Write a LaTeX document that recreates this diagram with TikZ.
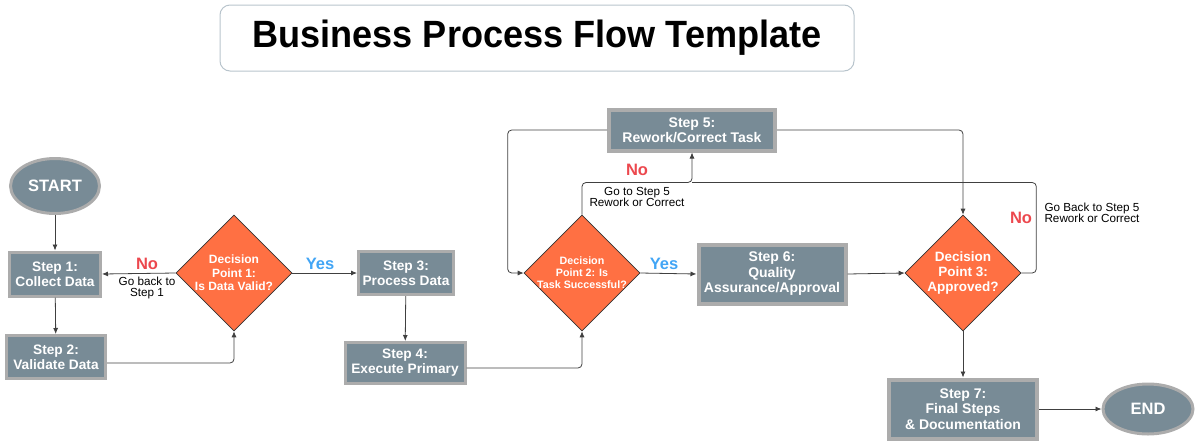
\documentclass[tikz,border=0pt]{standalone}
\usepackage{fontspec}
\setmainfont{Liberation Sans}
\usetikzlibrary{shapes.geometric,arrows.meta}
\definecolor{slate}{RGB}{120,139,150}
\definecolor{boxrim}{RGB}{172,172,172}
\definecolor{decorange}{RGB}{255,112,67}
\definecolor{nored}{RGB}{236,72,78}
\definecolor{yesblue}{RGB}{66,165,245}
\definecolor{titlerim}{RGB}{184,196,204}
\begin{document}
\begin{tikzpicture}[x=1pt,y=-1pt,
  stepbox/.style={rectangle,draw=boxrim,line width=3pt,fill=slate,text=white,
    font=\bfseries\fontsize{13.7}{15}\selectfont,align=center,inner sep=0pt},
  terminal/.style={ellipse,draw=boxrim,line width=3pt,fill=slate,text=white,
    font=\bfseries\fontsize{16.5}{18}\selectfont,inner sep=0pt},
  decision/.style={diamond,draw=black!80,line width=0.6pt,fill=decorange,text=white,
    font=\bfseries\fontsize{12}{13.5}\selectfont,align=center,inner sep=-8pt,
    minimum width=116pt,minimum height=116pt},
  flow/.style={draw=black!75,line width=0.8pt,rounded corners=4pt,-{Latex[length=6pt,width=5pt]}},
  plain/.style={draw=black!75,line width=0.8pt,rounded corners=4pt},
  nolabel/.style={text=nored,font=\bfseries\fontsize{16.5}{19}\selectfont},
  yeslabel/.style={text=yesblue,font=\bfseries\fontsize{16.5}{19}\selectfont},
  note/.style={font=\fontsize{11.7}{11.5}\selectfont,align=center,inner sep=0pt}
]
\useasboundingbox (0,0) rectangle (1200,445);
% coordinates
\coordinate (T)   at ( 537, 38);%
\coordinate (ST)  at (  55,186);%
\coordinate (S1)  at (  55,274);%
\coordinate (S2)  at (  56,357);%
\coordinate (D1)  at ( 234,273);%
\coordinate (S3)  at ( 406,273);%
\coordinate (S4)  at ( 405,363);%
\coordinate (D2)  at ( 582,273);%
\coordinate (S5)  at ( 692,130);%
\coordinate (S6)  at ( 772,274);%
\coordinate (D3)  at ( 963,273);%
\coordinate (S7)  at ( 963,409);%
\coordinate (EN)  at (1148,409);%
% title
\node[draw=titlerim,line width=1pt,rounded corners=10pt,minimum width=634pt,minimum height=66pt,
  font=\bfseries\fontsize{38}{44}\selectfont] (title) at (T) {\scalebox{0.95}[1]{Business Process Flow Template}};
% nodes
\node[terminal,minimum width=89pt,minimum height=55pt] (start) at (ST) {START};
\node[stepbox,minimum width=91pt,minimum height=44pt]  (s1) at (S1) {Step 1:\\Collect Data};
\node[stepbox,minimum width=99pt,minimum height=43pt]  (s2) at (S2) {Step 2:\\Validate Data};
\node[decision] (d1) at (D1) {Decision\\Point 1:\\Is Data Valid?};
\node[stepbox,minimum width=95pt,minimum height=43pt]  (s3) at (S3) {Step 3:\\Process Data};
\node[stepbox,minimum width=120pt,minimum height=41pt] (s4) at (S4) {Step 4:\\Execute Primary};
\node[decision,font=\bfseries\fontsize{10.7}{12}\selectfont] (d2) at (D2) {Decision\\Point 2: Is\\Task Successful?};
\node[stepbox,line width=4pt,minimum width=166pt,minimum height=41pt,font=\bfseries\fontsize{14}{15.5}\selectfont] (s5) at (S5) {Step 5:\\Rework/Correct Task};
\node[stepbox,line width=4pt,minimum width=147pt,minimum height=59pt,font=\bfseries\fontsize{14}{15.5}\selectfont] (s6) at (S6) {Step 6:\\Quality\\Assurance/Approval};
\node[decision,font=\bfseries\fontsize{13.5}{15}\selectfont] (d3) at (D3) {Decision\\Point 3:\\Approved?};
\node[stepbox,line width=4pt,minimum width=148pt,minimum height=59pt,font=\bfseries\fontsize{14}{15.5}\selectfont] (s7) at (S7) {Step 7:\\Final Steps\\\& Documentation};
\node[terminal,minimum width=90pt,minimum height=50pt] (end) at (EN) {END};
% connectors
\draw[flow] (start) -- (s1);
\draw[flow] (s1) -- (s2);
\draw[flow] ([yshift=-6pt]s2.east) -| (d1.south);
\draw[flow] (d1.west) -- (s1.east);
\draw[flow] (d1.east) -- (s3.west);
\draw[flow] (s3) -- (s4);
\draw[flow] ([yshift=-5pt]s4.east) -| (d2.south);
\draw[flow] (s5.west) -| ([xshift=-16pt]d2.west) -- (d2.west);
\draw[flow] (d2.north) |- ([yshift=-30pt]s5.south) -- (s5.south);
\draw[plain] (d3.east) -- ++(15,0) |- ([yshift=-30pt]s5.south);
\draw[flow] (s5.east) -| (d3.north);
\draw[flow] (d2.east) -- (s6.west);
\draw[flow] (s6.east) -- (d3.west);
\draw[flow] (d3.south) -- (s7.north);
\draw[flow] (s7.east) -- (end.west);
% labels
\node[nolabel]  (no1)  at ( 147,264) {No};
\node[note]     (go1)  at ( 147,288) {Go back to\\Step 1};
\node[yeslabel] (yes1) at ( 320,264) {Yes};
\node[nolabel]  (no2)  at ( 637,170) {No};
\node[note]     (go2)  at ( 637,197) {Go to Step 5\\Rework or Correct};
\node[yeslabel] (yes2) at ( 664,264) {Yes};
\node[nolabel]  (no3)  at (1021,218) {No};
\node[note]     (go3)  at (1092,213) {Go Back to Step 5\\Rework or Correct};
\end{tikzpicture}
\end{document}
